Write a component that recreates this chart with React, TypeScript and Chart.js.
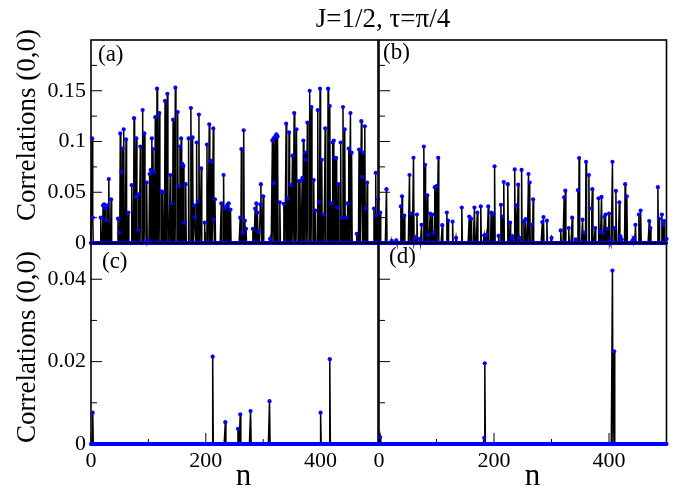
import React, { useEffect, useRef } from 'react';
import { Chart, registerables } from 'chart.js';

Chart.register(...registerables);

// ---------- text ----------
const FIG_TITLE = 'J=1/2, τ=π/4';
const Y_TITLE = 'Correlations (0,0)';
const X_TITLE = 'n';

// ---------- axes ----------
const N_MAX = 500;
const xTickLabels = [0, 200, 400];
const xMinorTicks = [100, 300];
const yMaxTop = 0.2;
const yTicksTop = [0, 0.05, 0.1, 0.15];
const yMinorTop = [0.025, 0.075, 0.125, 0.175];
const yMaxBottom = 0.0488;
const yTicksBottom = [0, 0.02, 0.04];
const yMinorBottom = [0.01, 0.03];

// ---------- data: [n, correlation] of non-zero points (all other n are 0) ----------
const spikesA: [number, number][] = [
  [2, 0.103], [3, 0.025], [17, 0.025], [21, 0.037], [23, 0.038], [25, 0.034], [27, 0.0225], [29, 0.037],
  [31, 0.063], [35, 0.043], [47, 0.024], [49, 0.010], [51, 0.108], [53, 0.070], [55, 0.093], [57, 0.112],
  [61, 0.102], [65, 0.030], [71, 0.057], [75, 0.123], [78, 0.0455], [79, 0.103], [82, 0.013], [83, 0.048],
  [86, 0.095], [90, 0.131], [93, 0.108], [97, 0.0595], [100, 0.003], [102, 0.068], [104, 0.072], [106, 0.103],
  [108, 0.0925], [110, 0.070], [112, 0.124], [115, 0.152], [119, 0.128], [123, 0.051], [125, 0.050], [129, 0.140],
  [133, 0.147], [138, 0.067], [140, 0.039], [143, 0.1215], [147, 0.153], [151, 0.129], [153, 0.056], [155, 0.095],
  [157, 0.103], [159, 0.078], [161, 0.076], [163, 0.020], [165, 0.058], [170, 0.103], [174, 0.133], [177, 0.104],
  [180, 0.037], [181, 0.0255], [184, 0.099], [186, 0.041], [188, 0.1265], [192, 0.0735], [198, 0.020], [202, 0.097],
  [206, 0.117], [209, 0.081], [210, 0.080], [213, 0.113], [214, 0.023], [216, 0.043], [227, 0.039], [231, 0.067],
  [233, 0.034], [236, 0.036], [238, 0.038], [240, 0.039], [243, 0.033], [260, 0.025], [262, 0.0925], [264, 0.010],
  [266, 0.111], [268, 0.022], [270, 0.014], [282, 0.014], [286, 0.034], [288, 0.039], [290, 0.030], [292, 0.011],
  [295, 0.038], [296, 0.058], [300, 0.046], [312, 0.004], [316, 0.101], [318, 0.103], [319, 0.059], [321, 0.105],
  [323, 0.107], [325, 0.105], [329, 0.040], [336, 0.0386], [340, 0.1176], [342, 0.044], [345, 0.109], [348, 0.057],
  [351, 0.086], [354, 0.128], [358, 0.112], [362, 0.061], [364, 0.061], [368, 0.064], [370, 0.101], [373, 0.089],
  [374, 0.082], [377, 0.1186], [381, 0.150], [384, 0.134], [388, 0.062], [391, 0.032], [395, 0.131], [397, 0.0405],
  [399, 0.152], [402, 0.082], [405, 0.028], [408, 0.113], [413, 0.152], [416, 0.135], [419, 0.039], [421, 0.099],
  [423, 0.101], [425, 0.084], [427, 0.084], [429, 0.035], [431, 0.058], [435, 0.099], [437, 0.025], [439, 0.134],
  [442, 0.112], [445, 0.025], [447, 0.039], [449, 0.093], [452, 0.128], [454, 0.089], [463, 0.009], [467, 0.092],
  [471, 0.120], [472, 0.065], [474, 0.089], [477, 0.115], [479, 0.034], [481, 0.0595], [493, 0.034], [496, 0.069],
  [498, 0.027], [500, 0.043],
];

const spikesB: [number, number][] = [
  [2, 0.030], [13, 0.053], [22, 0.002], [30, 0.0026], [38, 0.036], [40, 0.046], [44, 0.027], [53, 0.067],
  [56, 0.029], [60, 0.084], [63, 0.005], [66, 0.028], [71, 0.004], [74, 0.018], [78, 0.095], [80, 0.077],
  [84, 0.047], [86, 0.008], [89, 0.029], [93, 0.028], [95, 0.0098], [97, 0.055], [100, 0.056], [103, 0.084],
  [110, 0.0176], [118, 0.030], [120, 0.022], [128, 0.021], [134, 0.005], [144, 0.035], [157, 0.026], [160, 0.024],
  [166, 0.035], [171, 0.030], [177, 0.036], [183, 0.0075], [187, 0.008], [190, 0.036], [195, 0.030], [199, 0.029],
  [201, 0.0755], [208, 0.007], [212, 0.0376], [214, 0.026], [217, 0.060], [224, 0.058], [228, 0.020], [231, 0.005],
  [232, 0.0065], [236, 0.0725], [238, 0.037], [242, 0.0575], [244, 0.005], [248, 0.072], [252, 0.021], [255, 0.0235],
  [260, 0.068], [262, 0.0595], [266, 0.018], [268, 0.043], [284, 0.0206], [286, 0.0255], [292, 0.022], [300, 0.005],
  [316, 0.0124], [322, 0.045], [324, 0.0516], [330, 0.0147], [336, 0.025], [342, 0.0036], [346, 0.052], [348, 0.0837],
  [354, 0.023], [357, 0.010], [360, 0.080], [365, 0.067], [370, 0.034], [371, 0.053], [376, 0.0147], [382, 0.044],
  [384, 0.011], [387, 0.0454], [389, 0.010], [392, 0.0255], [394, 0.028], [397, 0.014], [400, 0.029], [402, 0.0026],
  [406, 0.080], [410, 0.0147], [412, 0.0513], [418, 0.040], [420, 0.0065], [422, 0.0036], [428, 0.058], [431, 0.046],
  [441, 0.0026], [444, 0.005], [446, 0.018], [452, 0.028], [455, 0.032], [470, 0.0216], [472, 0.0147], [485, 0.055],
  [487, 0.024], [492, 0.028], [494, 0.018], [496, 0.0216], [500, 0.004],
];

const spikesC: [number, number][] = [
  [3, 0.0076], [212, 0.0212], [234, 0.0053], [256, 0.0037], [260, 0.0072], [278, 0.008], [311, 0.0104],
  [400, 0.0076], [416, 0.0206],
];

const spikesD: [number, number][] = [
  [2, 0.0017], [183, 0.0015], [184, 0.0196], [406, 0.0421], [409, 0.0225],
];

// ---------- layout / style ----------
const W = 686;
const H = 493;
const FONT = '"Liberation Serif", "Times New Roman", serif';
const Y_AXIS_W = 60;
const X_AXIS_H = 30;

type Panel = {
  spikes: [number, number][];
  letter: string;
  area: { left: number; top: number; right: number; bottom: number };
  yMax: number;
  yMajor: number[];
  yMinor: number[];
  showY: boolean;
  showX: boolean;
  letterPos: [number, number];
  yTitleY?: number;
  xTitleX?: number;
  drawFigTitle?: boolean;
};

const panels: Panel[] = [
  {
    spikes: spikesA, letter: '(a)', area: { left: 91, top: 40, right: 378, bottom: 243 },
    yMax: yMaxTop, yMajor: yTicksTop, yMinor: yMinorTop, showY: true, showX: false,
    letterPos: [98, 61], yTitleY: 125, drawFigTitle: true,
  },
  {
    spikes: spikesB, letter: '(b)', area: { left: 379, top: 40, right: 666.5, bottom: 243 },
    yMax: yMaxTop, yMajor: yTicksTop, yMinor: yMinorTop, showY: false, showX: false,
    letterPos: [383, 59],
  },
  {
    spikes: spikesC, letter: '(c)', area: { left: 91, top: 243, right: 378, bottom: 444 },
    yMax: yMaxBottom, yMajor: yTicksBottom, yMinor: yMinorBottom, showY: true, showX: true,
    letterPos: [102, 268], yTitleY: 347, xTitleX: 243.5,
  },
  {
    spikes: spikesD, letter: '(d)', area: { left: 379, top: 243, right: 666.5, bottom: 444 },
    yMax: yMaxBottom, yMajor: yTicksBottom, yMinor: yMinorBottom, showY: false, showX: true,
    letterPos: [389, 263], xTitleX: 532.5,
  },
];

function buildSeries(spikes: [number, number][]) {
  const m = new Map<number, number>(spikes);
  const pts: { x: number; y: number }[] = [];
  for (let n = 0; n <= N_MAX; n++) pts.push({ x: n, y: m.get(n) ?? 0 });
  return pts;
}

function makeDecorPlugin(p: Panel) {
  return {
    id: 'decor',
    beforeDatasetsDraw(chart: any) {
      const { ctx, chartArea: a, scales } = chart;
      const xs = scales.x;
      const ys = scales.y;
      ctx.save();
      ctx.strokeStyle = '#000';
      ctx.lineWidth = 1;
      const yTick = (v: number, len: number) => {
        const py = ys.getPixelForValue(v);
        ctx.beginPath();
        ctx.moveTo(a.left, py);
        ctx.lineTo(a.left + len, py);
        ctx.stroke();
      };
      const xTick = (v: number, len: number) => {
        const px = xs.getPixelForValue(v);
        ctx.beginPath();
        ctx.moveTo(px, a.bottom);
        ctx.lineTo(px, a.bottom - len);
        ctx.stroke();
      };
      p.yMajor.forEach((v) => yTick(v, 11));
      p.yMinor.forEach((v) => yTick(v, 6));
      xTickLabels.forEach((v) => xTick(v, 11));
      xMinorTicks.forEach((v) => xTick(v, 5));
      ctx.lineWidth = 1.6;
      ctx.strokeStyle = '#000';
      ctx.strokeRect(a.left, a.top, a.right - a.left, a.bottom - a.top);
      ctx.restore();
    },
    afterDraw(chart: any) {
      const { ctx } = chart;
      ctx.save();
      ctx.fillStyle = '#000';
      ctx.textBaseline = 'alphabetic';
      ctx.font = `23px ${FONT}`;
      ctx.textAlign = 'left';
      ctx.fillText(p.letter, p.letterPos[0], p.letterPos[1]);
      if (p.drawFigTitle) {
        ctx.font = `27px ${FONT}`;
        ctx.textAlign = 'center';
        ctx.fillText(FIG_TITLE, 383, 27);
      }
      if (p.yTitleY !== undefined) {
        ctx.save();
        ctx.font = `27px ${FONT}`;
        ctx.textAlign = 'center';
        ctx.translate(35, p.yTitleY);
        ctx.rotate(-Math.PI / 2);
        ctx.fillText(Y_TITLE, 0, 0);
        ctx.restore();
      }
      if (p.xTitleX !== undefined) {
        ctx.font = `31px ${FONT}`;
        ctx.textAlign = 'center';
        ctx.fillText(X_TITLE, p.xTitleX, 485);
      }
      ctx.restore();
    },
  };
}

function PanelChart({ p }: { p: Panel }) {
  const ref = useRef<HTMLCanvasElement>(null);
  useEffect(() => {
    if (!ref.current) return;
    const a = p.area;
    const yW = p.showY ? Y_AXIS_W : 0;
    const xH = p.showX ? X_AXIS_H : 0;
    const chart = new Chart(ref.current, {
      type: 'line',
      data: {
        datasets: [
          {
            data: buildSeries(p.spikes),
            borderColor: '#000',
            borderWidth: 1.5,
            pointRadius: 2.1,
            pointHoverRadius: 2.1,
            pointBorderWidth: 0,
            pointBackgroundColor: '#0000ff',
            pointBorderColor: '#0000ff',
            tension: 0,
            clip: false as any,
          },
        ],
      },
      options: {
        animation: false,
        responsive: false,
        events: [],
        layout: {
          padding: {
            left: a.left - yW,
            top: a.top,
            right: W - a.right,
            bottom: H - a.bottom - xH,
          },
        },
        plugins: {
          legend: { display: false },
          tooltip: { enabled: false },
          title: { display: false },
        },
        scales: {
          x: {
            type: 'linear',
            min: 0,
            max: N_MAX,
            display: p.showX,
            afterFit: (s: any) => { s.height = xH; },
            afterBuildTicks: (s: any) => { s.ticks = xTickLabels.map((v) => ({ value: v })); },
            grid: { display: false, drawTicks: false, tickLength: 0 },
            border: { display: false },
            ticks: {
              font: { family: FONT, size: 22 },
              color: '#000',
              padding: 4,
              maxRotation: 0,
              autoSkip: false,
              callback: (v: any) => String(v),
            },
          },
          y: {
            type: 'linear',
            min: 0,
            max: p.yMax,
            display: p.showY,
            afterFit: (s: any) => { s.width = yW; },
            afterBuildTicks: (s: any) => { s.ticks = p.yMajor.map((v) => ({ value: v })); },
            grid: { display: false, drawTicks: false, tickLength: 0 },
            border: { display: false },
            ticks: {
              font: { family: FONT, size: 22 },
              color: '#000',
              padding: 5,
              autoSkip: false,
              callback: (v: any) => String(v),
            },
          },
        },
      } as any,
      plugins: [makeDecorPlugin(p)],
    });
    return () => chart.destroy();
  }, [p]);
  return (
    <canvas
      ref={ref}
      width={W}
      height={H}
      style={{ position: 'absolute', left: 0, top: 0, width: W, height: H }}
    />
  );
}

export default function App() {
  return (
    <div style={{ position: 'absolute', left: 0, top: 0, width: W, height: H, background: '#fff' }}>
      {panels.map((p, i) => (
        <PanelChart key={i} p={p} />
      ))}
    </div>
  );
}
